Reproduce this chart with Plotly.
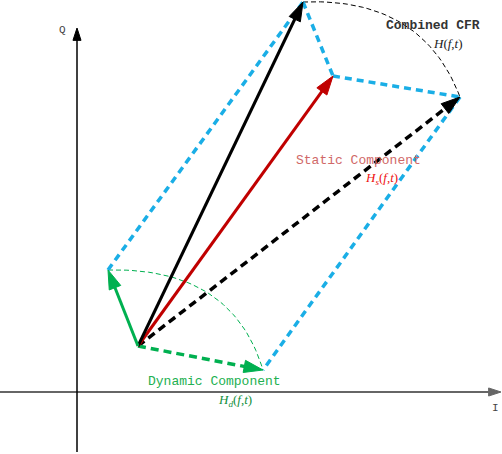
import plotly.graph_objects as go

# points (origin = where the I and Q axes cross)
origin = (61, 46)
static_tip = (256, 316)
dyn_up = (31, 122)
dyn_right = (186, 22)
comb_up = (226, 390)
comb_right = (383, 295)

x_range = [-77, 425]
y_range = [-62, 392]

mono = "Liberation Mono, DejaVu Sans Mono, monospace"
serif = "Liberation Serif, DejaVu Serif, serif"

BLUE = "#1aaee6"
RED = "#c00000"
GREEN = "#00b050"


def arrow(p0, p1, color, width=3, dash="solid", head=20):
    return go.Scatter(
        x=[p0[0], p1[0]], y=[p0[1], p1[1]], mode="lines+markers",
        line=dict(color=color, width=width, dash=dash),
        marker=dict(symbol="arrow", size=[0, head], angleref="previous",
                    color=color, opacity=1, line=dict(width=1, color=color)),
        hoverinfo="skip", showlegend=False)


def seg(p0, p1, color, width=3.5, dash="7px,5px"):
    return go.Scatter(
        x=[p0[0], p1[0]], y=[p0[1], p1[1]], mode="lines",
        line=dict(color=color, width=width, dash=dash),
        hoverinfo="skip", showlegend=False)


def bezier(p0, c, p1, n=40):
    xs, ys = [], []
    for i in range(n + 1):
        t = i / n
        xs.append((1 - t) ** 2 * p0[0] + 2 * (1 - t) * t * c[0] + t ** 2 * p1[0])
        ys.append((1 - t) ** 2 * p0[1] + 2 * (1 - t) * t * c[1] + t ** 2 * p1[1])
    return xs, ys


fig = go.Figure()

# thin dashed arcs
ax_, ay_ = bezier(dyn_up, (155, 125), dyn_right)
fig.add_trace(go.Scatter(x=ax_, y=ay_, mode="lines",
                         line=dict(color=GREEN, width=1, dash="5px,3px"),
                         hoverinfo="skip", showlegend=False))
bx_, by_ = bezier(comb_up, (345, 395), comb_right)
fig.add_trace(go.Scatter(x=bx_, y=by_, mode="lines",
                         line=dict(color="black", width=1, dash="5px,3px"),
                         hoverinfo="skip", showlegend=False))

# blue dashed parallelogram sides
fig.add_trace(seg(dyn_up, comb_up, BLUE))
fig.add_trace(seg(comb_up, static_tip, BLUE))
fig.add_trace(seg(static_tip, comb_right, BLUE))
fig.add_trace(seg(comb_right, dyn_right, BLUE))

# vectors
fig.add_trace(arrow(origin, comb_right, "black", width=3.5, dash="8px,5px"))
fig.add_trace(arrow(origin, dyn_right, GREEN, width=3.5, dash="8px,5px"))
fig.add_trace(arrow(origin, static_tip, RED, width=3))
fig.add_trace(arrow(origin, comb_up, "black", width=3))
fig.add_trace(arrow(origin, dyn_up, GREEN, width=3))

# I / Q axes
fig.add_trace(arrow((x_range[0], 0), (x_range[1] - 1, 0), "#666666", width=2, head=13))
fig.add_trace(arrow((0, y_range[0] + 2), (0, y_range[1] - 28), "black", width=1.5, head=13))

annots = [
    dict(x=-15, y=362, text="Q", font=dict(family=mono, size=11, color="#444")),
    dict(x=418, y=-16, text="I", font=dict(family=mono, size=11, color="#444")),
    dict(x=356, y=367, text="<b>Combined CFR</b>", font=dict(family=mono, size=13, color="#333")),
    dict(x=371, y=349, text="<i>H</i>(<i>f</i>,<i>t</i>)", font=dict(family=serif, size=13, color="#222")),
    dict(x=281, y=232, text="Static Component", font=dict(family=mono, size=13, color="#d06868")),
    dict(x=304, y=214, text="<i>H<sub>s</sub></i>(<i>f</i>,<i>t</i>)", font=dict(family=serif, size=13, color="#ee1111")),
    dict(x=137, y=11, text="Dynamic Component", font=dict(family=mono, size=13, color="#22b050")),
    dict(x=158, y=-8, text="<i>H<sub>d</sub></i>(<i>f</i>,<i>t</i>)", font=dict(family=serif, size=13, color="#129040")),
]
for a in annots:
    fig.add_annotation(showarrow=False, xref="x", yref="y", **a)

fig.update_layout(
    width=502, height=454, margin=dict(l=0, r=0, t=0, b=0),
    plot_bgcolor="white", paper_bgcolor="white",
    xaxis=dict(range=x_range, visible=False, fixedrange=True),
    yaxis=dict(range=y_range, visible=False, fixedrange=True),
)

fig.write_html("out.html", config={"displayModeBar": False},
               post_script="document.body.style.margin='0';")
